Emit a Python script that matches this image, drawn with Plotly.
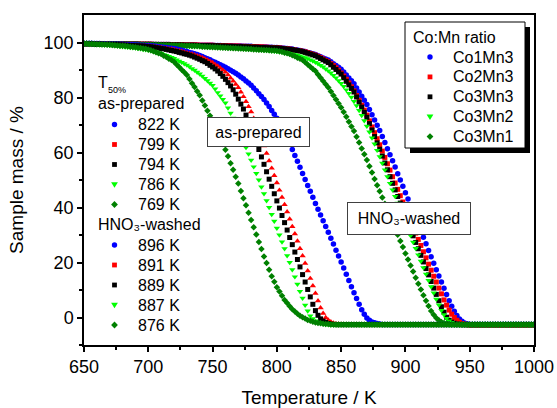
import plotly.graph_objects as go

# Sampling grid of the thermogravimetric runs (K)
TEMP_K = list(range(650, 1001, 2))

SAMPLES = ["Co1Mn3", "Co2Mn3", "Co3Mn3", "Co3Mn2", "Co3Mn1"]
T50_AS_PREPARED = ["822 K", "799 K", "794 K", "786 K", "769 K"]
T50_HNO3_WASHED = ["896 K", "891 K", "889 K", "887 K", "876 K"]

# Sample mass (%) of the as-prepared catalysts
AP_CO1MN3 = [
    99.6, 99.6, 99.6, 99.6, 99.5, 99.5, 99.5, 99.5, 99.5, 99.4,
    99.4, 99.4, 99.4, 99.4, 99.4, 99.4, 99.3, 99.3, 99.2, 99.2,
    99.1, 99.1, 99.0, 99.0, 98.9, 98.9, 98.8, 98.7, 98.6, 98.5,
    98.4, 98.3, 98.2, 98.0, 97.9, 97.8, 97.6, 97.4, 97.2, 96.9,
    96.7, 96.4, 96.2, 95.9, 95.6, 95.3, 94.9, 94.5, 94.1, 93.7,
    93.2, 92.8, 92.4, 91.9, 91.5, 91.0, 90.5, 89.9, 89.4, 88.8,
    88.2, 87.5, 86.8, 86.0, 85.3, 84.5, 83.5, 82.5, 81.4, 80.4,
    79.3, 78.0, 76.7, 75.3, 73.9, 72.5, 70.7, 68.9, 67.0, 65.1,
    63.2, 61.1, 58.9, 56.8, 54.6, 52.4, 50.2, 48.0, 45.9, 43.7,
    41.5, 39.4, 37.3, 35.2, 33.1, 31.0, 28.8, 26.7, 24.5, 22.4,
    20.2, 18.0, 15.7, 13.5, 11.2, 9.0, 6.9, 4.8, 2.8, 1.2,
    -0.2, -1.0, -1.6, -1.9, -2.2, -2.4, -2.5, -2.5, -2.5, -2.5,
    -2.5, -2.5, -2.5, -2.5, -2.5, -2.5, -2.5, -2.5, -2.5, -2.5,
    -2.5, -2.5, -2.5, -2.5, -2.5, -2.5, -2.5, -2.5, -2.5, -2.5,
    -2.5, -2.5, -2.5, -2.5, -2.5, -2.5, -2.5, -2.5, -2.5, -2.5,
    -2.5, -2.5, -2.5, -2.5, -2.5, -2.5, -2.5, -2.5, -2.5, -2.5,
    -2.5, -2.5, -2.5, -2.5, -2.5, -2.5, -2.5, -2.5, -2.5, -2.5,
    -2.5, -2.5, -2.5, -2.5, -2.5, -2.5,
]
AP_CO2MN3 = [
    99.6, 99.6, 99.5, 99.5, 99.5, 99.5, 99.4, 99.4, 99.4, 99.4,
    99.3, 99.3, 99.3, 99.2, 99.2, 99.2, 99.1, 99.1, 99.0, 99.0,
    98.9, 98.9, 98.8, 98.8, 98.7, 98.7, 98.6, 98.5, 98.4, 98.3,
    98.2, 98.0, 97.9, 97.7, 97.6, 97.4, 97.2, 97.0, 96.8, 96.5,
    96.3, 96.0, 95.8, 95.5, 95.2, 94.9, 94.5, 94.1, 93.6, 93.2,
    92.7, 92.0, 91.4, 90.7, 90.0, 89.2, 88.2, 87.1, 86.0, 84.8,
    83.6, 82.0, 80.3, 78.5, 76.7, 74.8, 72.4, 69.9, 67.4, 64.9,
    62.4, 59.7, 57.0, 54.3, 51.6, 49.0, 46.3, 43.7, 41.1, 38.4,
    35.8, 33.1, 30.4, 27.8, 25.1, 22.4, 19.7, 17.0, 14.2, 11.5,
    8.8, 6.1, 3.5, 1.5, 0.0, -0.9, -1.6, -2.0, -2.3, -2.4,
    -2.5, -2.6, -2.7, -2.7, -2.7, -2.7, -2.7, -2.7, -2.7, -2.7,
    -2.7, -2.7, -2.7, -2.7, -2.7, -2.7, -2.7, -2.7, -2.7, -2.7,
    -2.7, -2.7, -2.7, -2.7, -2.7, -2.7, -2.7, -2.7, -2.7, -2.7,
    -2.7, -2.7, -2.7, -2.7, -2.7, -2.7, -2.7, -2.7, -2.7, -2.7,
    -2.7, -2.7, -2.7, -2.7, -2.7, -2.7, -2.7, -2.7, -2.7, -2.7,
    -2.7, -2.7, -2.7, -2.7, -2.7, -2.7, -2.7, -2.7, -2.7, -2.7,
    -2.7, -2.7, -2.7, -2.7, -2.7, -2.7, -2.7, -2.7, -2.7, -2.7,
    -2.7, -2.7, -2.7, -2.7, -2.7, -2.7,
]
AP_CO3MN3 = [
    99.5, 99.5, 99.5, 99.5, 99.4, 99.4, 99.4, 99.4, 99.3, 99.3,
    99.3, 99.2, 99.2, 99.2, 99.1, 99.1, 99.0, 99.0, 98.9, 98.9,
    98.8, 98.8, 98.7, 98.7, 98.6, 98.5, 98.4, 98.3, 98.1, 98.0,
    97.8, 97.7, 97.5, 97.3, 97.1, 96.9, 96.7, 96.4, 96.2, 95.9,
    95.7, 95.4, 95.1, 94.7, 94.3, 93.9, 93.4, 93.0, 92.4, 91.7,
    91.1, 90.4, 89.6, 88.7, 87.7, 86.6, 85.4, 84.2, 82.8, 81.2,
    79.4, 77.6, 75.8, 73.6, 71.2, 68.7, 66.2, 63.7, 61.1, 58.4,
    55.7, 53.0, 50.3, 47.7, 45.0, 42.4, 39.8, 37.1, 34.5, 31.8,
    29.1, 26.5, 23.8, 21.1, 18.4, 15.6, 12.9, 10.2, 7.5, 4.8,
    2.5, 0.8, -0.5, -1.3, -1.8, -2.2, -2.4, -2.5, -2.6, -2.6,
    -2.6, -2.6, -2.6, -2.6, -2.6, -2.6, -2.6, -2.6, -2.6, -2.6,
    -2.6, -2.6, -2.6, -2.6, -2.6, -2.6, -2.6, -2.6, -2.6, -2.6,
    -2.6, -2.6, -2.6, -2.6, -2.6, -2.6, -2.6, -2.6, -2.6, -2.6,
    -2.6, -2.6, -2.6, -2.6, -2.6, -2.6, -2.6, -2.6, -2.6, -2.6,
    -2.6, -2.6, -2.6, -2.6, -2.6, -2.6, -2.6, -2.6, -2.6, -2.6,
    -2.6, -2.6, -2.6, -2.6, -2.6, -2.6, -2.6, -2.6, -2.6, -2.6,
    -2.6, -2.6, -2.6, -2.6, -2.6, -2.6, -2.6, -2.6, -2.6, -2.6,
    -2.6, -2.6, -2.6, -2.6, -2.6, -2.6,
]
AP_CO3MN2 = [
    99.5, 99.5, 99.4, 99.4, 99.3, 99.3, 99.2, 99.2, 99.1, 99.1,
    99.0, 98.9, 98.8, 98.7, 98.6, 98.5, 98.4, 98.3, 98.2, 98.1,
    98.0, 97.8, 97.7, 97.5, 97.4, 97.2, 97.0, 96.7, 96.5, 96.2,
    96.0, 95.6, 95.3, 94.9, 94.6, 94.2, 93.7, 93.2, 92.8, 92.3,
    91.8, 91.2, 90.5, 89.9, 89.2, 88.6, 87.8, 86.9, 86.1, 85.2,
    84.4, 83.1, 81.8, 80.6, 79.3, 78.0, 76.2, 74.3, 72.5, 70.6,
    68.8, 66.5, 64.2, 61.8, 59.5, 57.2, 54.8, 52.4, 50.0, 47.5,
    45.0, 42.5, 40.0, 37.5, 35.0, 32.5, 30.0, 27.5, 25.0, 22.5,
    20.0, 17.4, 14.8, 12.1, 9.5, 7.0, 4.5, 2.4, 0.6, -0.4,
    -1.2, -1.7, -2.1, -2.3, -2.5, -2.6, -2.7, -2.7, -2.7, -2.7,
    -2.7, -2.7, -2.7, -2.7, -2.7, -2.7, -2.7, -2.7, -2.7, -2.7,
    -2.7, -2.7, -2.7, -2.7, -2.7, -2.7, -2.7, -2.7, -2.7, -2.7,
    -2.7, -2.7, -2.7, -2.7, -2.7, -2.7, -2.7, -2.7, -2.7, -2.7,
    -2.7, -2.7, -2.7, -2.7, -2.7, -2.7, -2.7, -2.7, -2.7, -2.7,
    -2.7, -2.7, -2.7, -2.7, -2.7, -2.7, -2.7, -2.7, -2.7, -2.7,
    -2.7, -2.7, -2.7, -2.7, -2.7, -2.7, -2.7, -2.7, -2.7, -2.7,
    -2.7, -2.7, -2.7, -2.7, -2.7, -2.7, -2.7, -2.7, -2.7, -2.7,
    -2.7, -2.7, -2.7, -2.7, -2.7, -2.7,
]
AP_CO3MN1 = [
    99.6, 99.6, 99.5, 99.5, 99.5, 99.4, 99.4, 99.3, 99.3, 99.2,
    99.2, 99.1, 99.0, 98.9, 98.8, 98.8, 98.7, 98.6, 98.5, 98.4,
    98.3, 98.1, 98.0, 97.8, 97.7, 97.5, 97.2, 96.8, 96.5, 96.1,
    95.8, 95.2, 94.7, 94.1, 93.6, 93.0, 92.0, 91.1, 90.1, 89.2,
    88.2, 86.7, 85.2, 83.8, 82.3, 80.8, 78.9, 77.1, 75.2, 73.4,
    71.5, 69.4, 67.3, 65.2, 63.1, 61.0, 58.6, 56.1, 53.7, 51.2,
    48.7, 46.0, 43.4, 40.8, 38.1, 35.5, 32.8, 30.2, 27.5, 24.9,
    22.2, 19.8, 17.4, 15.0, 13.0, 11.0, 9.5, 7.9, 6.4, 5.3,
    4.1, 3.0, 2.2, 1.4, 0.6, 0.1, -0.4, -0.9, -1.2, -1.5,
    -1.8, -2.0, -2.1, -2.3, -2.4, -2.4, -2.5, -2.5, -2.5, -2.5,
    -2.5, -2.5, -2.5, -2.5, -2.5, -2.5, -2.5, -2.5, -2.5, -2.5,
    -2.5, -2.5, -2.5, -2.5, -2.5, -2.5, -2.5, -2.5, -2.5, -2.5,
    -2.5, -2.5, -2.5, -2.5, -2.5, -2.5, -2.5, -2.5, -2.5, -2.5,
    -2.5, -2.5, -2.5, -2.5, -2.5, -2.5, -2.5, -2.5, -2.5, -2.5,
    -2.5, -2.5, -2.5, -2.5, -2.5, -2.5, -2.5, -2.5, -2.5, -2.5,
    -2.5, -2.5, -2.5, -2.5, -2.5, -2.5, -2.5, -2.5, -2.5, -2.5,
    -2.5, -2.5, -2.5, -2.5, -2.5, -2.5, -2.5, -2.5, -2.5, -2.5,
    -2.5, -2.5, -2.5, -2.5, -2.5, -2.5,
]

# Sample mass (%) of the HNO3-washed catalysts
HW_CO1MN3 = [
    99.6, 99.6, 99.6, 99.6, 99.6, 99.6, 99.6, 99.5, 99.5, 99.5,
    99.5, 99.5, 99.5, 99.5, 99.5, 99.5, 99.5, 99.4, 99.4, 99.4,
    99.4, 99.4, 99.4, 99.4, 99.4, 99.4, 99.4, 99.3, 99.3, 99.3,
    99.3, 99.3, 99.3, 99.3, 99.2, 99.2, 99.2, 99.2, 99.2, 99.1,
    99.1, 99.1, 99.1, 99.1, 99.1, 99.0, 99.0, 99.0, 99.0, 99.0,
    99.0, 98.9, 98.9, 98.9, 98.8, 98.8, 98.8, 98.8, 98.7, 98.7,
    98.7, 98.7, 98.6, 98.6, 98.6, 98.6, 98.5, 98.5, 98.5, 98.4,
    98.4, 98.4, 98.3, 98.3, 98.2, 98.2, 98.1, 98.0, 97.9, 97.8,
    97.7, 97.6, 97.4, 97.3, 97.1, 96.9, 96.7, 96.4, 96.2, 95.9,
    95.6, 95.2, 94.8, 94.4, 94.0, 93.6, 93.0, 92.3, 91.6, 91.0,
    90.3, 89.3, 88.2, 87.1, 86.1, 85.0, 83.5, 82.0, 80.5, 79.0,
    77.5, 75.6, 73.7, 71.8, 69.9, 68.0, 65.8, 63.6, 61.4, 59.2,
    57.0, 54.7, 52.3, 50.0, 47.7, 45.4, 43.1, 40.8, 38.4, 36.1,
    33.8, 31.5, 29.2, 26.8, 24.4, 22.1, 19.7, 17.4, 15.1, 12.9,
    10.6, 8.4, 6.1, 4.1, 2.3, 0.7, -0.5, -1.4, -2.0, -2.3,
    -2.5, -2.5, -2.5, -2.5, -2.5, -2.5, -2.5, -2.5, -2.5, -2.5,
    -2.5, -2.5, -2.5, -2.5, -2.5, -2.5, -2.5, -2.5, -2.5, -2.5,
    -2.5, -2.5, -2.5, -2.5, -2.5, -2.5,
]
HW_CO2MN3 = [
    99.6, 99.6, 99.6, 99.6, 99.6, 99.6, 99.6, 99.5, 99.5, 99.5,
    99.5, 99.5, 99.5, 99.5, 99.5, 99.5, 99.5, 99.4, 99.4, 99.4,
    99.4, 99.4, 99.4, 99.4, 99.4, 99.4, 99.4, 99.3, 99.3, 99.3,
    99.3, 99.3, 99.3, 99.3, 99.2, 99.2, 99.2, 99.2, 99.2, 99.1,
    99.1, 99.1, 99.1, 99.1, 99.1, 99.0, 99.0, 99.0, 99.0, 99.0,
    99.0, 98.9, 98.9, 98.9, 98.8, 98.8, 98.8, 98.7, 98.7, 98.7,
    98.7, 98.6, 98.6, 98.6, 98.5, 98.5, 98.5, 98.4, 98.4, 98.4,
    98.3, 98.3, 98.2, 98.2, 98.1, 98.1, 98.0, 97.9, 97.8, 97.7,
    97.6, 97.4, 97.3, 97.1, 97.0, 96.8, 96.6, 96.3, 96.0, 95.7,
    95.4, 95.0, 94.5, 94.0, 93.5, 93.0, 92.3, 91.6, 90.8, 89.9,
    88.9, 87.8, 86.6, 85.3, 83.9, 82.4, 80.7, 79.0, 77.2, 75.4,
    73.6, 71.5, 69.3, 67.2, 65.0, 62.8, 60.5, 58.2, 55.9, 53.6,
    51.2, 48.9, 46.6, 44.3, 42.0, 39.7, 37.5, 35.2, 33.0, 30.7,
    28.4, 26.2, 23.9, 21.7, 19.4, 17.2, 15.0, 12.9, 10.7, 8.6,
    6.4, 4.5, 2.7, 1.2, 0.0, -1.0, -1.7, -2.2, -2.4, -2.6,
    -2.7, -2.7, -2.7, -2.7, -2.7, -2.7, -2.7, -2.7, -2.7, -2.7,
    -2.7, -2.7, -2.7, -2.7, -2.7, -2.7, -2.7, -2.7, -2.7, -2.7,
    -2.7, -2.7, -2.7, -2.7, -2.7, -2.7,
]
HW_CO3MN3 = [
    99.6, 99.6, 99.6, 99.6, 99.6, 99.5, 99.5, 99.5, 99.5, 99.5,
    99.5, 99.5, 99.5, 99.5, 99.4, 99.4, 99.4, 99.4, 99.4, 99.4,
    99.4, 99.4, 99.3, 99.3, 99.3, 99.3, 99.3, 99.3, 99.3, 99.2,
    99.2, 99.2, 99.2, 99.2, 99.1, 99.1, 99.1, 99.1, 99.1, 99.0,
    99.0, 99.0, 99.0, 99.0, 98.9, 98.9, 98.9, 98.9, 98.9, 98.8,
    98.8, 98.8, 98.8, 98.7, 98.7, 98.7, 98.6, 98.6, 98.6, 98.5,
    98.5, 98.5, 98.4, 98.4, 98.4, 98.3, 98.3, 98.3, 98.2, 98.2,
    98.2, 98.1, 98.1, 98.0, 98.0, 98.0, 97.9, 97.8, 97.7, 97.6,
    97.5, 97.4, 97.2, 97.1, 96.9, 96.7, 96.4, 96.1, 95.8, 95.5,
    95.2, 94.7, 94.2, 93.7, 93.2, 92.7, 91.9, 91.0, 90.2, 89.3,
    88.5, 87.2, 85.9, 84.6, 83.3, 82.0, 80.2, 78.3, 76.5, 74.6,
    72.8, 70.5, 68.2, 65.8, 63.5, 61.2, 58.7, 56.2, 53.7, 51.2,
    48.8, 46.4, 44.0, 41.6, 39.2, 36.9, 34.5, 32.1, 29.7, 27.3,
    25.0, 22.6, 20.2, 17.8, 15.5, 13.1, 10.7, 8.4, 6.1, 3.9,
    1.9, 0.1, -1.0, -1.7, -2.1, -2.4, -2.5, -2.6, -2.6, -2.6,
    -2.6, -2.6, -2.6, -2.6, -2.6, -2.6, -2.6, -2.6, -2.6, -2.6,
    -2.6, -2.6, -2.6, -2.6, -2.6, -2.6, -2.6, -2.6, -2.6, -2.6,
    -2.6, -2.6, -2.6, -2.6, -2.6, -2.6,
]
HW_CO3MN2 = [
    99.5, 99.5, 99.5, 99.5, 99.5, 99.4, 99.4, 99.4, 99.4, 99.4,
    99.4, 99.4, 99.3, 99.3, 99.3, 99.3, 99.3, 99.3, 99.2, 99.2,
    99.2, 99.2, 99.2, 99.1, 99.1, 99.1, 99.1, 99.0, 99.0, 99.0,
    99.0, 98.9, 98.9, 98.9, 98.8, 98.8, 98.8, 98.7, 98.7, 98.7,
    98.6, 98.6, 98.6, 98.5, 98.5, 98.5, 98.4, 98.4, 98.3, 98.3,
    98.3, 98.2, 98.2, 98.1, 98.1, 98.0, 98.0, 97.9, 97.9, 97.8,
    97.8, 97.7, 97.7, 97.6, 97.6, 97.5, 97.5, 97.4, 97.3, 97.3,
    97.2, 97.1, 97.0, 96.9, 96.8, 96.7, 96.6, 96.5, 96.3, 96.2,
    96.0, 95.8, 95.6, 95.4, 95.1, 94.8, 94.5, 94.1, 93.7, 93.3,
    92.8, 92.3, 91.7, 91.1, 90.4, 89.7, 88.9, 88.0, 87.1, 86.1,
    85.1, 84.0, 82.8, 81.5, 80.1, 78.6, 77.0, 75.3, 73.5, 71.6,
    69.6, 67.5, 65.3, 63.1, 60.8, 58.5, 56.1, 53.7, 51.2, 48.8,
    46.4, 44.0, 41.6, 39.2, 36.8, 34.5, 32.1, 29.8, 27.4, 25.1,
    22.8, 20.5, 18.1, 15.8, 13.5, 11.2, 8.9, 6.7, 4.6, 2.6,
    1.0, -0.3, -1.2, -1.8, -2.2, -2.5, -2.6, -2.7, -2.7, -2.7,
    -2.7, -2.7, -2.7, -2.7, -2.7, -2.7, -2.7, -2.7, -2.7, -2.7,
    -2.7, -2.7, -2.7, -2.7, -2.7, -2.7, -2.7, -2.7, -2.7, -2.7,
    -2.7, -2.7, -2.7, -2.7, -2.7, -2.7,
]
HW_CO3MN1 = [
    99.6, 99.6, 99.6, 99.6, 99.5, 99.5, 99.5, 99.5, 99.5, 99.5,
    99.5, 99.4, 99.4, 99.4, 99.4, 99.4, 99.4, 99.4, 99.3, 99.3,
    99.3, 99.3, 99.3, 99.3, 99.3, 99.3, 99.2, 99.2, 99.2, 99.2,
    99.1, 99.1, 99.1, 99.0, 99.0, 99.0, 98.9, 98.9, 98.9, 98.8,
    98.8, 98.8, 98.7, 98.7, 98.7, 98.6, 98.5, 98.5, 98.4, 98.4,
    98.3, 98.3, 98.2, 98.2, 98.1, 98.1, 98.0, 98.0, 97.9, 97.9,
    97.8, 97.8, 97.7, 97.7, 97.6, 97.6, 97.5, 97.5, 97.4, 97.4,
    97.3, 97.3, 97.2, 97.1, 97.1, 97.0, 96.8, 96.6, 96.3, 96.1,
    95.8, 95.4, 95.0, 94.5, 94.1, 93.6, 92.8, 92.0, 91.2, 90.4,
    89.6, 88.4, 87.2, 86.0, 84.8, 83.6, 82.2, 80.7, 79.3, 77.8,
    76.4, 74.7, 73.0, 71.2, 69.5, 67.8, 65.7, 63.6, 61.5, 59.4,
    57.3, 55.0, 52.7, 50.4, 48.1, 45.9, 43.6, 41.4, 39.1, 36.9,
    34.6, 32.3, 30.1, 27.8, 25.6, 23.3, 21.1, 18.9, 16.7, 14.5,
    12.3, 10.2, 8.1, 6.1, 4.2, 2.4, 1.0, -0.2, -1.0, -1.6,
    -2.0, -2.2, -2.4, -2.5, -2.5, -2.5, -2.5, -2.5, -2.5, -2.5,
    -2.5, -2.5, -2.5, -2.5, -2.5, -2.5, -2.5, -2.5, -2.5, -2.5,
    -2.5, -2.5, -2.5, -2.5, -2.5, -2.5, -2.5, -2.5, -2.5, -2.5,
    -2.5, -2.5, -2.5, -2.5, -2.5, -2.5,
]

AS_PREPARED = [AP_CO1MN3, AP_CO2MN3, AP_CO3MN3, AP_CO3MN2, AP_CO3MN1]
HNO3_WASHED = [HW_CO1MN3, HW_CO2MN3, HW_CO3MN3, HW_CO3MN2, HW_CO3MN1]

# Styling
FONT = "Liberation Sans, Arial, sans-serif"
COLORS = ["#0000FF", "#FF0000", "#000000", "#00FF00", "#008000"]
SYM_AS_PREPARED = ["circle", "triangle-up", "square", "triangle-down", "diamond"]
SYM_HNO3_WASHED = ["circle", "square", "square", "triangle-down", "diamond"]
SYM_KEY = ["circle", "square", "square", "triangle-down", "diamond"]
SIZE = {"circle": 5.5, "square": 5, "triangle-up": 5.6, "triangle-down": 5.6, "diamond": 5}
HNO3_WASHED_TEXT = "HNO\u2083-washed"

W, H = 557, 408
L, R, T, B = 84, 23, 15, 63
PW, PH = W - L - R, H - T - B


def px_x(px):
    """Horizontal page pixel -> paper fraction."""
    return (px - L) / PW


def px_y(py):
    """Vertical page pixel (from top) -> paper fraction."""
    return (H - B - py) / PH


def text_at(text, x, y, size=16, xanchor="left"):
    return dict(text=text, x=px_x(x), y=px_y(y), xref="paper", yref="paper",
                xanchor=xanchor, yanchor="middle", showarrow=False,
                font=dict(family=FONT, size=size, color="black"))


def key_symbol(sym, color, x, y):
    """Legend key glyph drawn as a pixel-sized shape."""
    base = dict(xref="paper", yref="paper", xsizemode="pixel", ysizemode="pixel",
                xanchor=px_x(x), yanchor=px_y(y), fillcolor=color,
                line=dict(width=0), layer="above")
    if sym == "circle":
        return dict(type="circle", x0=-2.7, x1=2.7, y0=-2.7, y1=2.7, **base)
    if sym == "square":
        return dict(type="rect", x0=-2.4, x1=2.4, y0=-2.4, y1=2.4, **base)
    if sym == "triangle-down":
        return dict(type="path", path="M-3.4,2.3 L3.4,2.3 L0,-3.3 Z", **base)
    return dict(type="path", path="M0,3.4 L3.4,0 L0,-3.4 L-3.4,0 Z", **base)


fig = go.Figure()

# Measured curves
for masses, symbols in ((HNO3_WASHED, SYM_HNO3_WASHED), (AS_PREPARED, SYM_AS_PREPARED)):
    for mass, sym, col in zip(masses, symbols, COLORS):
        fig.add_trace(go.Scatter(
            x=TEMP_K, y=mass, mode="markers", showlegend=False, hoverinfo="skip",
            marker=dict(symbol=sym, size=SIZE[sym], color=col, line=dict(width=0)),
        ))

annotations = []
shapes = []

# Key box for the Co:Mn ratios (with drop shadow)
shapes.append(dict(type="rect", xref="paper", yref="paper", layer="above",
                   x0=px_x(410), x1=px_x(530), y0=px_y(153), y1=px_y(27),
                   fillcolor="black", line=dict(width=0)))
shapes.append(dict(type="rect", xref="paper", yref="paper", layer="above",
                   x0=px_x(405), x1=px_x(525), y0=px_y(148), y1=px_y(22),
                   fillcolor="white", line=dict(color="black", width=1)))
annotations.append(text_at("Co:Mn ratio", 411, 37))
for i, (name, sym, col) in enumerate(zip(SAMPLES, SYM_KEY, COLORS)):
    yy = 57 + 19.9 * i
    shapes.append(key_symbol(sym, col, 430, yy))
    annotations.append(text_at(name, 451, yy))

# Key of the T50% values
annotations.append(text_at("T", 96, 82.5))
annotations.append(text_at("50%", 105.5, 90, size=9))
annotations.append(text_at("as-prepared", 96, 103))
for i, (lab, sym, col) in enumerate(zip(T50_AS_PREPARED, SYM_KEY, COLORS)):
    yy = 124.5 + 20 * i
    shapes.append(key_symbol(sym, col, 114.5, yy))
    annotations.append(text_at(lab, 136, yy))
annotations.append(text_at(HNO3_WASHED_TEXT, 96, 224))
for i, (lab, sym, col) in enumerate(zip(T50_HNO3_WASHED, SYM_KEY, COLORS)):
    yy = 245 + 20 * i
    shapes.append(key_symbol(sym, col, 114.5, yy))
    annotations.append(text_at(lab, 136, yy))

# Boxed captions of the two sample families
for text, cx, cy, bw, bh in (("as-prepared", 258.5, 132, 93, 20),
                             (HNO3_WASHED_TEXT, 408.5, 218.3, 114, 23)):
    cap = text_at(text, cx, cy, xanchor="center")
    cap.update(bgcolor="white", bordercolor="#404040", borderwidth=1, borderpad=4,
               width=bw, height=bh)
    annotations.append(cap)

axis_common = dict(
    showline=True, linecolor="black", linewidth=1.5, mirror=True,
    showgrid=False, zeroline=False, automargin=False,
    ticks="outside", ticklen=5, tickwidth=1.5, tickcolor="black",
    tickfont=dict(family=FONT, size=18, color="black"),
)

fig.update_layout(
    width=W, height=H,
    margin=dict(l=L, r=R, t=T, b=B),
    paper_bgcolor="white", plot_bgcolor="white",
    font=dict(family=FONT, size=18, color="black"),
    showlegend=False,
    xaxis=dict(
        range=[650, 1000], tick0=650, dtick=50, ticklabelstandoff=0,
        minor=dict(dtick=25, ticks="outside", ticklen=3, tickwidth=1.5, tickcolor="black"),
        title=dict(text="Temperature / K", font=dict(family=FONT, size=19), standoff=19),
        **axis_common,
    ),
    yaxis=dict(
        range=[-10, 110], tickvals=[0, 20, 40, 60, 80, 100],
        minor=dict(tickvals=[-10, 10, 30, 50, 70, 90], ticks="outside", ticklen=3,
                   tickwidth=1.5, tickcolor="black"),
        title=dict(text="Sample mass / %", font=dict(family=FONT, size=19), standoff=15),
        **axis_common,
    ),
    annotations=annotations,
    shapes=shapes,
)

fig.write_html("out.html")
